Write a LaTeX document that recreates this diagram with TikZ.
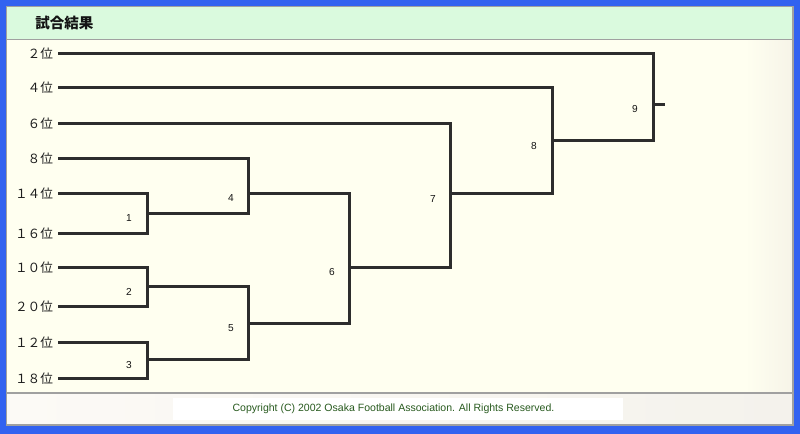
\documentclass[tikz,border=0pt]{standalone}
\usepackage{fontspec}
\setmainfont{Liberation Sans}
\newfontfamily\jpfont{Noto Sans CJK JP}
\begin{document}
\begin{tikzpicture}[x=0.75pt,y=0.75pt,yscale=-1,xscale=1,
  wire/.style={draw={rgb, 255:red, 45; green, 45; blue, 45 },line width=2.25pt},
  team/.style={anchor=east,inner sep=0pt,outer xsep=3.75pt,font=\jpfont\fontsize{9.5}{10}\selectfont,color={rgb, 255:red, 30; green, 30; blue, 30 }},
  game/.style={inner sep=0pt,font=\fontsize{7.6}{8}\selectfont,color={rgb, 255:red, 20; green, 20; blue, 20 }},
  rule/.style={draw={rgb, 255:red, 160; green, 160; blue, 160 },line width=0.9pt}]
\useasboundingbox (0,0) rectangle (800,434);

%Shape: Rectangle [blue frame]
\fill [fill={rgb, 255:red, 50; green, 98; blue, 240 }] (0,0) rectangle (800,434);
%Shape: Rectangle [panel]
\fill [fill={rgb, 255:red, 255; green, 255; blue, 240 }] (6.5,6.5) rectangle (793,425);
%Shape: right edge shading
\shade [left color={rgb, 255:red, 255; green, 255; blue, 240 },right color={rgb, 255:red, 246; green, 244; blue, 232 }] (745,40) rectangle (792.5,393);
%Shape: Rectangle [header]
\shade [left color={rgb, 255:red, 218; green, 250; blue, 222 },right color={rgb, 255:red, 218; green, 250; blue, 222 },middle color={rgb, 255:red, 218; green, 250; blue, 222 }] (7,7) rectangle (792.5,39);
%Shape: Rectangle [footer]
\shade [left color={rgb, 255:red, 252; green, 250; blue, 246 },right color={rgb, 255:red, 244; green, 242; blue, 236 }] (7,393) rectangle (792.5,424.5);
\fill [fill={rgb, 255:red, 255; green, 255; blue, 255 }] (173,398) rectangle (623,420);
%Shape: rules
\draw [rule] (6.5,6.5) rectangle (793,425);
\draw [rule] (7,39.5) -- (792.5,39.5);
\draw [rule] (7,393) -- (792.5,393);

% Text Node
\node [anchor=west,inner sep=0pt,font=\jpfont\bfseries\fontsize{10.9}{12}\selectfont,color={rgb, 255:red, 20; green, 20; blue, 20 }] (title) at (35,23) {試合結果};

% Teams
\node [team] (t2) at (58,54) {２位};
\node [team] (t4) at (58,88) {４位};
\node [team] (t6) at (58,124) {６位};
\node [team] (t8) at (58,159) {８位};
\node [team] (t14) at (58,194) {１４位};
\node [team] (t16) at (58,234) {１６位};
\node [team] (t10) at (58,268) {１０位};
\node [team] (t20) at (58,307) {２０位};
\node [team] (t12) at (58,343) {１２位};
\node [team] (t18) at (58,379) {１８位};

% Junctions
\coordinate (m1) at (147,214);
\coordinate (m2) at (147,287);
\coordinate (m3) at (147,360);
\coordinate (m4) at (248,194);
\coordinate (m5) at (248,324);
\coordinate (m6) at (349,268);
\coordinate (m7) at (450,194);
\coordinate (m8) at (552,141);
\coordinate (m9) at (653,105);
\coordinate (fin) at (665,105);

% Brackets
\draw [wire] (t14) -| (m1) |- (t16);
\draw [wire] (t10) -| (m2) |- (t20);
\draw [wire] (t12) -| (m3) |- (t18);
\draw [wire] (t8) -| (m4) |- (m1);
\draw [wire] (m2) -| (m5) |- (m3);
\draw [wire] (m4) -| (m6) |- (m5);
\draw [wire] (t6) -| (m7) |- (m6);
\draw [wire] (t4) -| (m8) |- (m7);
\draw [wire] (t2) -| (m9) |- (m8);
\draw [wire] (m9) -- (fin);

% Game numbers
\node [game] (g1) at (129,218) {1};
\node [game] (g2) at (129,292) {2};
\node [game] (g3) at (129,365) {3};
\node [game] (g4) at (231,198) {4};
\node [game] (g5) at (231,328) {5};
\node [game] (g6) at (332,272) {6};
\node [game] (g7) at (433,199) {7};
\node [game] (g8) at (534,146) {8};
\node [game] (g9) at (635,109) {9};

% Text Node
\node [inner sep=0pt,font=\fontsize{7.9}{9}\selectfont,color={rgb, 255:red, 40; green, 90; blue, 30 }] (copy) at (393.5,408.5) {Copyright (C) 2002 Osaka Football Association. All Rights Reserved.};
\end{tikzpicture}
\end{document}
